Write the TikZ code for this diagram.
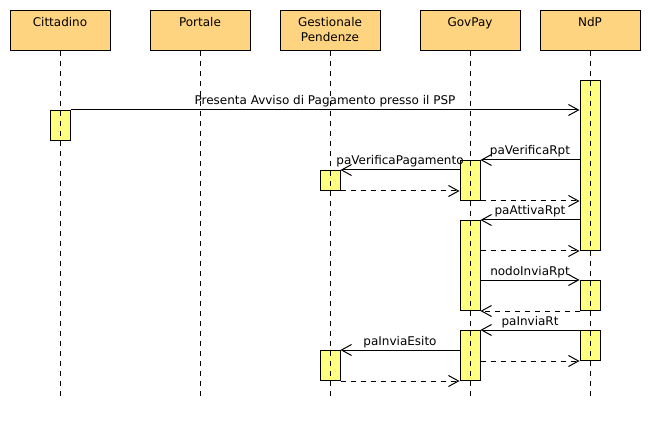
\documentclass[tikz,border=0pt]{standalone}
\usepackage{fontspec}
\setmainfont{DejaVu Sans}
\usetikzlibrary{arrows.meta}
\definecolor{headfill}{RGB}{255,212,128}
\definecolor{actfill}{RGB}{255,255,128}
\tikzset{
  head/.style={draw, fill=headfill, minimum width=100pt, minimum height=40pt, anchor=north},
  headtxt/.style={anchor=north, yshift=-7pt, inner sep=0pt, align=center},
  act/.style={draw, fill=actfill, minimum width=20pt, inner sep=0pt, anchor=north},
  lifeline/.style={dash pattern=on 5pt off 5pt},
  msg/.style={-{Straight Barb[length=10pt,width=11pt]}},
  ret/.style={msg, dash pattern=on 5pt off 5pt},
  lbl/.style={anchor=base, yshift=5pt, inner sep=0pt}
}
\begin{document}
\begin{tikzpicture}[x=1pt, y=-1pt, line width=1pt, font=\fontsize{12}{15}\selectfont]
\useasboundingbox (0,0) rectangle (650,430);

\foreach \n/\x/\t in {cit/60/Cittadino, por/200/Portale, ges/330/{Gestionale\\Pendenze}, gov/470/GovPay, ndp/590/NdP}
\node[head, label={[headtxt]north:\t}] (\n) at (\x,10) {};

% activations
\node[act, minimum height=30pt] (citA) at (60,110) {};
\node[act, minimum height=170pt] (ndpA) at (590,80) {};
\node[act, minimum height=20pt] (gesA) at (330,170) {};
\node[act, minimum height=40pt] (govA) at (470,160) {};
\node[act, minimum height=90pt] (govB) at (470,220) {};
\node[act, minimum height=30pt] (ndpB) at (590,280) {};
\node[act, minimum height=50pt] (govC) at (470,330) {};
\node[act, minimum height=30pt] (ndpC) at (590,330) {};
\node[act, minimum height=30pt] (gesB) at (330,350) {};

\foreach \n in {cit,por,ges,gov,ndp}
\draw[lifeline] (\n.south) -- (\n.south |- 0,400);

% messages
\draw[msg] (citA.north east) -- node[lbl] {Presenta Avviso di Pagamento presso il PSP} (citA.north east -| ndpA.west);
\draw[msg] (govA.north east -| ndpA.west) -- node[lbl] {paVerificaRpt} (govA.north east);
\draw[msg] (gesA.north east -| govA.west) -- node[lbl] {paVerificaPagamento} (gesA.north east);
\draw[ret] (gesA.south east) -- (gesA.south east -| govA.west);
\draw[ret] (govA.south east) -- (govA.south east -| ndpA.west);
\draw[msg] (govB.north east -| ndpA.west) -- node[lbl] {paAttivaRpt} (govB.north east);
\draw[ret] (ndpA.south west -| govB.east) -- (ndpA.south west);
\draw[msg] (ndpB.north west -| govB.east) -- node[lbl] {nodoInviaRpt} (ndpB.north west);
\draw[ret] (ndpB.south west) -- (govB.south east);
\draw[msg] (ndpC.north west) -- node[lbl] {paInviaRt} (govC.north east);
\draw[msg] (gesB.north east -| govC.west) -- node[lbl] {paInviaEsito} (gesB.north east);
\draw[ret] (ndpC.south west -| govC.east) -- (ndpC.south west);
\draw[ret] (gesB.south east) -- (govC.south west);
\end{tikzpicture}
\end{document}
